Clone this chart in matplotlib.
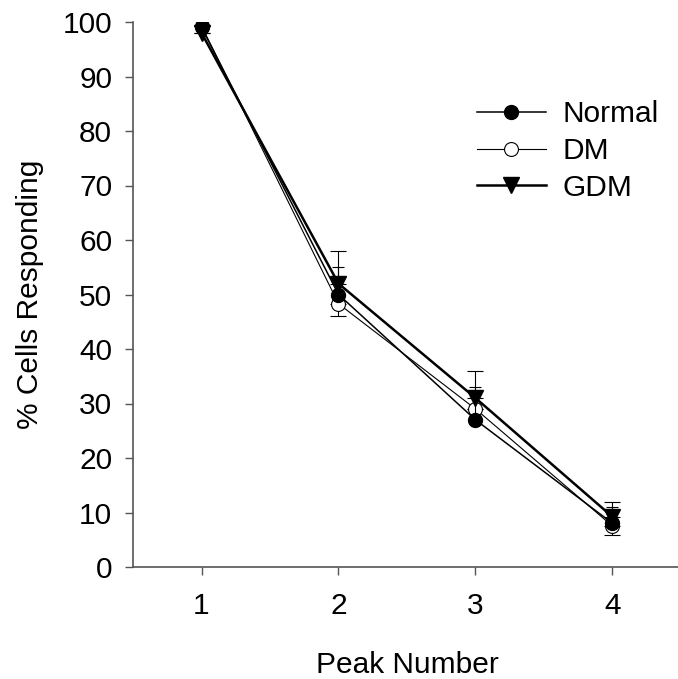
import matplotlib.pyplot as plt

plt.rcParams['font.family'] = ['Liberation Sans', 'DejaVu Sans']

# data
peaks = [1, 2, 3, 4]
normal = [99, 50, 27, 8]
normal_up = [0, 5, 6, 3]
dm = [99.3, 48.3, 29, 7.5]
dm_down = [0, 2.3, 0, 1.6]
gdm = [98, 52, 31, 9.2]
gdm_up = [0, 6, 5, 2.8]

fig = plt.figure(figsize=(6.78, 6.79), dpi=100)
ax = fig.add_axes([133 / 678, (679 - 567) / 679, 548 / 678, 545 / 679])

# DM underneath, then Normal, GDM on top
ax.errorbar(peaks, dm, yerr=[dm_down, [0] * 4], color='black', lw=0.8,
            marker='o', ms=10, mfc='white', mec='black', mew=0.8,
            capsize=6, elinewidth=0.8, capthick=0.8, label='DM', zorder=2)
ax.errorbar(peaks, normal, yerr=[[0] * 4, normal_up], color='black', lw=1.1,
            marker='o', ms=10, mfc='black', mec='black',
            capsize=4, elinewidth=0.8, capthick=0.8, label='Normal', zorder=3)
ax.errorbar(peaks, gdm, yerr=[[0] * 4, gdm_up], color='black', lw=1.8,
            marker='v', ms=11, mfc='black', mec='black',
            capsize=6, elinewidth=0.8, capthick=0.8, label='GDM', zorder=4)

ax.set_xlim(0.5, 4.5)
ax.set_ylim(0, 100)
ax.set_xticks(peaks)
ax.set_yticks(range(0, 101, 10))
ax.tick_params(labelsize=21.5, length=6, width=1, color='#555555')
ax.tick_params(axis='x', pad=12)
ax.tick_params(axis='y', pad=9)
for s in ['top', 'right']:
    ax.spines[s].set_visible(False)
for s in ['left', 'bottom']:
    ax.spines[s].set_color('#555555')
    ax.spines[s].set_linewidth(1.2)

ax.set_xlabel('Peak Number', fontsize=21.5, labelpad=22)
ax.set_ylabel('% Cells Responding', fontsize=21.5, labelpad=13)

h, l = ax.get_legend_handles_labels()
order = [1, 0, 2]
ax.legend([h[i][0] for i in order], [l[i] for i in order], frameon=False,
          fontsize=21.5, loc='upper left', bbox_to_anchor=(477 / 678, 1 - 100 / 679),
          bbox_transform=fig.transFigure, borderpad=0, borderaxespad=0,
          handlelength=2.3, handletextpad=0.55, labelspacing=0.3)

fig.savefig('out.png', dpi=100)
